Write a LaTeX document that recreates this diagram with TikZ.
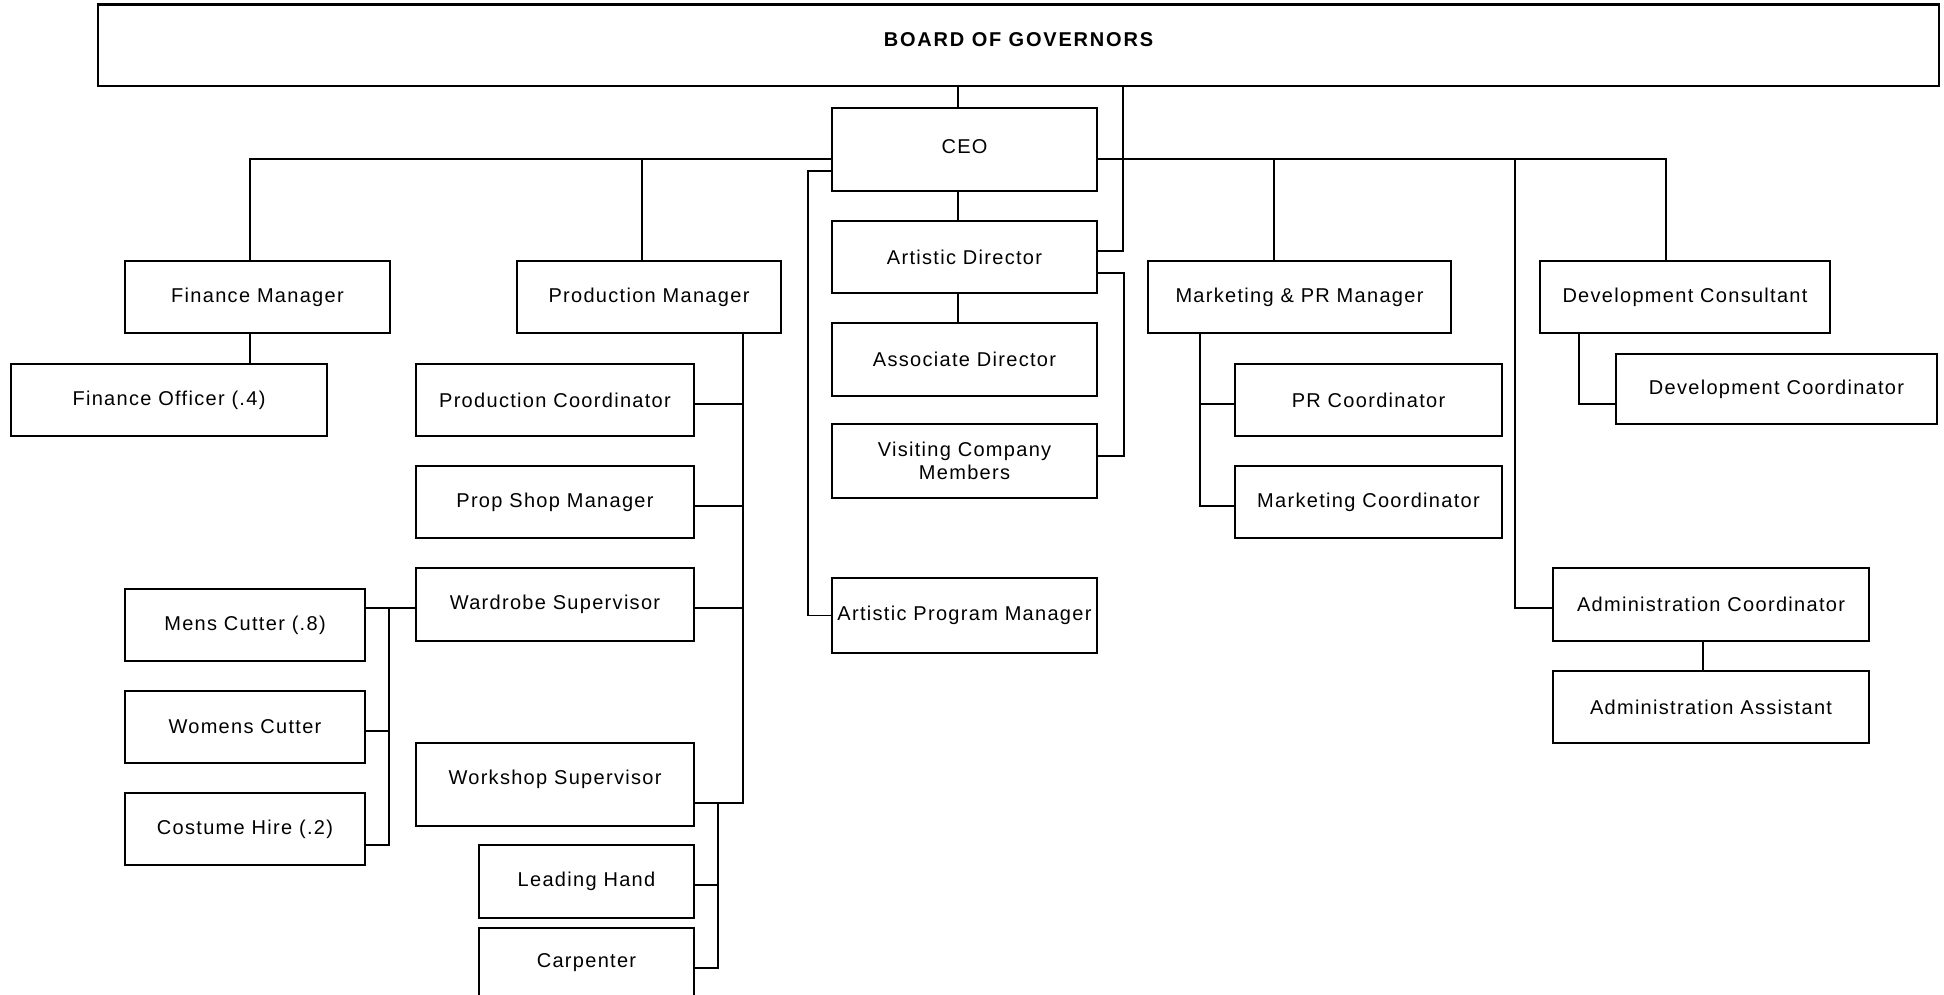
\documentclass[tikz,border=0pt]{standalone}
\usepackage{fontspec}
\setmainfont{Liberation Sans}[LetterSpace=6.5]
\newfontfamily\boardfont{Liberation Sans}[LetterSpace=9]
\begin{document}
\begin{tikzpicture}[x=1pt,y=-1pt,
  box/.style={draw, line width=1.5pt, inner sep=0pt, align=center,
    font=\fontsize{20}{23}\selectfont},
  conn/.style={line width=1.5pt, line join=miter}]
\useasboundingbox (0,0) rectangle (1944,995);
% nodes
\node[box, minimum width=1841, minimum height=81, text depth=11pt, font=\boardfont\bfseries\fontsize{20}{23}\selectfont] (board) at (1018.5,45.5) {BOARD OF GOVERNORS};
\draw[line width=3pt] (board.north west) -- (board.north east);
\node[box, minimum width=265, minimum height=83, text depth=5pt] (ceo) at (964.5,149.5) {CEO};
\node[box, minimum width=265, minimum height=72] (fm) at (257.5,297) {Finance Manager};
\node[box, minimum width=264, minimum height=72] (pm) at (649,297) {Production Manager};
\node[box, minimum width=316, minimum height=72] (fo) at (169,400) {Finance Officer (.4)};
\node[box, minimum width=278, minimum height=72] (pc) at (555,400) {Production Coordinator};
\node[box, minimum width=278, minimum height=72] (psm) at (555,502) {Prop Shop Manager};
\node[box, minimum width=278, minimum height=73] (ws) at (555,604.5) {Wardrobe Supervisor};
\node[box, minimum width=278, minimum height=83, text depth=15pt] (wk) at (555,784.5) {Workshop Supervisor};
\node[box, minimum width=215, minimum height=73] (lh) at (586.5,881.5) {Leading Hand};
\node[box, minimum width=215, minimum height=70] (carp) at (586.5,963) {Carpenter};
\node[box, minimum width=240, minimum height=72] (mc) at (245,625) {Mens Cutter (.8)};
\node[box, minimum width=240, minimum height=72] (wc) at (245,727) {Womens Cutter};
\node[box, minimum width=240, minimum height=72] (ch) at (245,829) {Costume Hire (.2)};
\node[box, minimum width=265, minimum height=72] (ad) at (964.5,257) {Artistic Director};
\node[box, minimum width=265, minimum height=73] (asd) at (964.5,359.5) {Associate Director};
\node[box, minimum width=265, minimum height=74] (vcm) at (964.5,461) {Visiting Company\\Members};
\node[box, minimum width=265, minimum height=75] (apm) at (964.5,615.5) {Artistic Program Manager};
\node[box, minimum width=303, minimum height=72] (mpr) at (1299.5,297) {Marketing \& PR Manager};
\node[box, minimum width=267, minimum height=72] (prc) at (1368.5,400) {PR Coordinator};
\node[box, minimum width=267, minimum height=72] (mkc) at (1368.5,502) {Marketing Coordinator};
\node[box, minimum width=290, minimum height=72] (dc) at (1685,297) {Development Consultant};
\node[box, minimum width=321, minimum height=70] (dco) at (1776.5,389) {Development Coordinator};
\node[box, minimum width=316, minimum height=73] (adc) at (1711,604.5) {Administration Coordinator};
\node[box, minimum width=316, minimum height=72] (ada) at (1711,707) {Administration Assistant};
% junction coordinates
\coordinate (jL) at (250,159);
\coordinate (jR) at (1666,159);
\coordinate (ap) at (808,171);
\coordinate (bd2) at (1123,251);
\coordinate (vt) at (1124,273);
\coordinate (vc) at (1124,456);
\coordinate (pmb) at (743,803);
\coordinate (wkb) at (718,968);
\coordinate (wdt) at (389,608);
\coordinate (wdb) at (389,845);
\coordinate (mk) at (1200,506);
\coordinate (dv) at (1579,404);
\coordinate (adj) at (1515,608);
% connectors
\draw[conn] (958,0 |- board.south) -- (958,0 |- ceo.north);
\draw[conn] (ceo.west |- jL) -- (jL) -- (jL |- fm.north);
\draw[conn] (642,0 |- jL) -- (642,0 |- pm.north);
\draw[conn] (ceo.east |- jR) -- (jR) -- (jR |- dc.north);
\draw[conn] (1274,0 |- jR) -- (1274,0 |- mpr.north);
\draw[conn] (adj |- jR) -- (adj) -- (adc.west |- adj);
\draw[conn] (ceo.west |- ap) -- (ap) -- (ap |- apm.west) -- (apm.west);
\draw[conn] (958,0 |- ceo.south) -- (958,0 |- ad.north);
\draw[conn] (958,0 |- ad.south) -- (958,0 |- asd.north);
\draw[conn] (bd2 |- board.south) -- (bd2) -- (ad.east |- bd2);
\draw[conn] (ad.east |- vt) -- (vt) -- (vc) -- (vcm.east |- vc);
\draw[conn] (jL |- fm.south) -- (jL |- fo.north);
\draw[conn] (pmb |- pm.south) -- (pmb) -- (wk.east |- pmb);
\draw[conn] (pc.east |- 0,404) -- (pmb |- 0,404);
\draw[conn] (psm.east |- 0,506) -- (pmb |- 0,506);
\draw[conn] (ws.east |- wdt) -- (pmb |- wdt);
\draw[conn] (wkb |- pmb) -- (wkb) -- (carp.east |- wkb);
\draw[conn] (lh.east |- 0,885) -- (wkb |- 0,885);
\draw[conn] (ws.west |- wdt) -- (mc.east |- wdt);
\draw[conn] (wdt) -- (wdb) -- (ch.east |- wdb);
\draw[conn] (wc.east |- 0,731) -- (wdt |- 0,731);
\draw[conn] (mk |- mpr.south) -- (mk) -- (mkc.west |- mk);
\draw[conn] (prc.west |- 0,404) -- (mk |- 0,404);
\draw[conn] (dv |- dc.south) -- (dv) -- (dco.west |- dv);
\draw[conn] (1703,0 |- adc.south) -- (1703,0 |- ada.north);
\end{tikzpicture}
\end{document}
